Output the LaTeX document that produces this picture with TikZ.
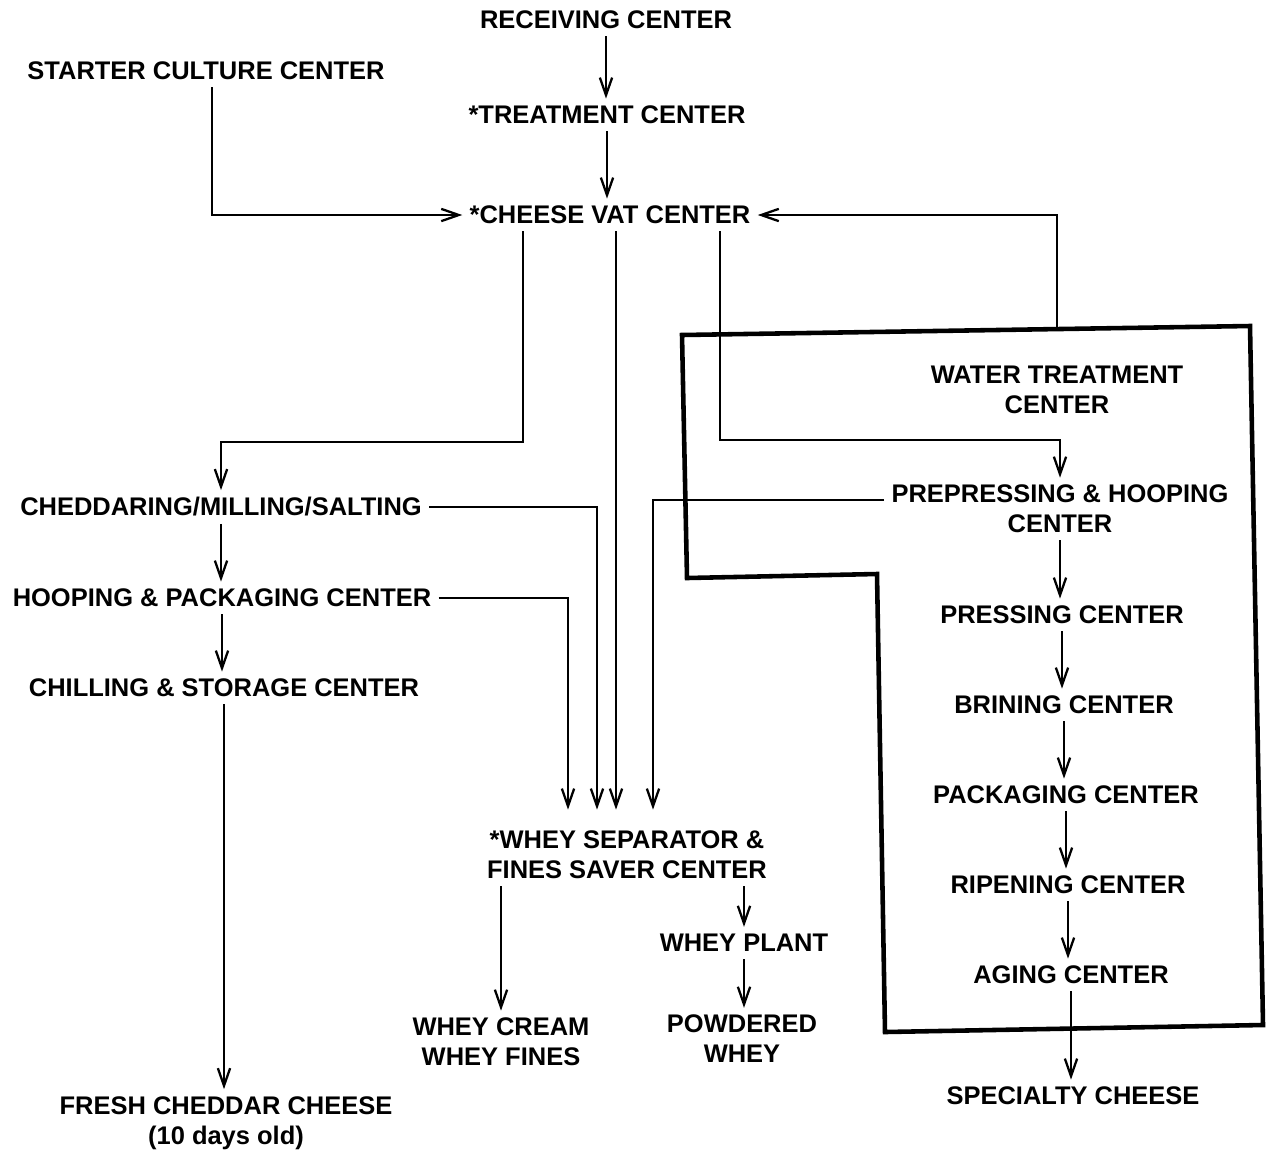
\documentclass[tikz,border=0pt]{standalone}
\usepackage{fontspec}
\setmainfont{Liberation Sans}
\usetikzlibrary{arrows.meta}

\begin{document}
\begin{tikzpicture}[x=0.02cm,y=-0.02cm,
    lbl/.style={font=\bfseries\fontsize{14.5}{17}\selectfont,align=center,inner sep=4pt},
    flow/.style={line width=1.3pt,-{Straight Barb[length=10pt,width=7pt]}},
    into/.style={shorten >=8pt},
    boxline/.style={line width=2.6pt,line join=miter}]
    \useasboundingbox (0,0) rectangle (1267,1157);
    % Centros de cima
    \node[lbl] (recv)    at (606,20)  {RECEIVING CENTER};
    \node[lbl] (treat)   at (607,115) {*TREATMENT CENTER};
    \node[lbl] (vat)     at (610,215) {*CHEESE VAT CENTER};
    \node[lbl] (starter) at (206,71)  {STARTER CULTURE CENTER};
    % Coluna da esquerda
    \node[lbl] (cmill) at (221,507)  {CHEDDARING/MILLING/SALTING};
    \node[lbl] (hoop)  at (222,598)  {HOOPING \& PACKAGING CENTER};
    \node[lbl] (chill) at (224,688)  {CHILLING \& STORAGE CENTER};
    \node[lbl] (fresh) at (226,1123) {FRESH CHEDDAR CHEESE\\(10 days old)};
    % Soro
    \node[lbl] (whey)   at (627,855)  {*WHEY SEPARATOR \&\\FINES SAVER CENTER};
    \node[lbl] (plant)  at (744,943)  {WHEY PLANT};
    \node[lbl] (cream)  at (501,1042) {WHEY CREAM\\WHEY FINES};
    \node[lbl] (powder) at (742,1039) {POWDERED\\WHEY};
    % Coluna da direita
    \node[lbl] (water) at (1057,390) {WATER TREATMENT\\CENTER};
    \node[lbl] (prep)  at (1060,509) {PREPRESSING \& HOOPING\\CENTER};
    \node[lbl] (press) at (1062,615) {PRESSING CENTER};
    \node[lbl] (brine) at (1064,705) {BRINING CENTER};
    \node[lbl] (pack)  at (1066,795) {PACKAGING CENTER};
    \node[lbl] (ripen) at (1068,885) {RIPENING CENTER};
    \node[lbl] (aging) at (1071,975) {AGING CENTER};
    \node[lbl] (spec)  at (1073,1096) {SPECIALTY CHEESE};
    % Caixa
    \draw[boxline] (682,335) -- (1250,326) -- (1263,1025) -- (885,1032)
        -- (877,574) -- (687,578) -- cycle;
    % Pontos auxiliares
    \coordinate (bendS) at (212,215);
    \coordinate (bendL) at (523,442);
    \coordinate (bendR) at (720,440);
    \coordinate (wtop)  at (1057,329);
    \coordinate (colA)  at (568,0);
    \coordinate (colB)  at (597,0);
    \coordinate (colC)  at (616,0);
    \coordinate (colD)  at (653,0);
    % Setas verticais
    \foreach \a/\b in {recv/treat, treat/vat, cmill/hoop, hoop/chill, chill/fresh,
        plant/powder, prep/press, press/brine, brine/pack, pack/ripen,
        ripen/aging, aging/spec}
        \draw[flow] (\a.south) -- (\a.south |- \b.north);
    \draw[flow] (whey.south -| cream.north) -- (cream.north);
    \draw[flow] (whey.south -| plant.north) -- (plant.north);
    % Ligacoes com dobra
    \draw[flow] (starter.south -| bendS) -- (bendS) -- (vat.west);
    \draw[flow] (wtop) |- (vat.east);
    \draw[flow] (vat.south -| bendL) -- (bendL) -| (cmill);
    \draw[flow] (vat.south -| bendR) -- (bendR) -| (prep);
    % Entradas no separador
    \draw[flow,into] (vat.south -| colC) -- (colC |- whey.north);
    \draw[flow,into] (cmill.east) -| (colB |- whey.north);
    \draw[flow,into] (hoop.east) -| (colA |- whey.north);
    \draw[flow,into] ([yshift=5pt]prep.west) -| (colD |- whey.north);
\end{tikzpicture}
\end{document}
